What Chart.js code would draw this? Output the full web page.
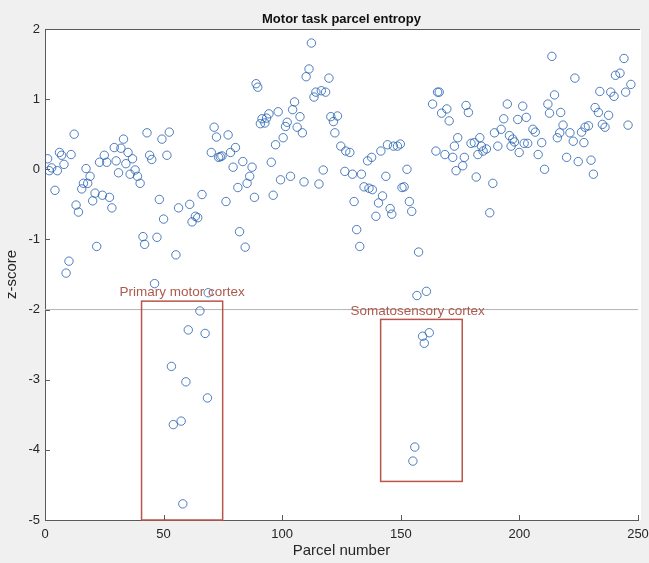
<!DOCTYPE html>
<html>
<head>
<meta charset="utf-8">
<script src="https://cdn.jsdelivr.net/npm/chart.js@4.4.0/dist/chart.umd.min.js"></script>
<style>
  html, body { margin: 0; padding: 0; background: #f0f0f0; }
  #wrap { width: 649px; height: 563px; }
</style>
</head>
<body>
<div id="wrap"><canvas id="entropyChart" width="649" height="563"></canvas></div>
<script>
// parcel number (x) and z-score (y)
const parcelNumbers = [
  1.1, 1.8, 2.8, 4.2, 5.2, 6.1, 7, 8, 8.9, 10.1, 11, 12.3, 13.1, 14.1, 15.5, 16.2, 17.3, 18, 19, 20.1,
  21.1, 21.8, 23, 24.2, 25, 26, 27.2, 28.2, 29.2, 30, 31, 32, 33.1, 34.1, 35, 35.9, 36.9, 38, 39, 40.1,
  41.3, 42, 43, 44.1, 45, 46.2, 47.2, 48.2, 49.3, 50, 51.4, 52.4, 53.3, 54.1, 55.2, 56.3, 57.4, 58.1, 59.4, 60.4,
  61, 62, 63.4, 64.4, 65.3, 66.2, 67.5, 68.5, 68.8, 70.1, 71.3, 72.3, 73.2, 73.9, 74.6, 76.3, 77.2, 78.2, 79.3, 80.3,
  81.3, 82, 83.4, 84.4, 85.2, 86.3, 87.3, 88.3, 89, 89.7, 90.8, 91.5, 92.7, 93.4, 94.4, 95.4, 96.2, 97.2, 98.3, 99.3,
  100.4, 101.4, 102.1, 103.5, 104.4, 105.2, 106.3, 107.5, 108.5, 109.2, 110.1, 111.3, 112.3, 113.4, 114.2, 115.5, 116.5, 117.3, 118.3, 119.7,
  120.5, 121.6, 122.2, 123.3, 124.7, 126.4, 126.8, 128.5, 129.6, 130.3, 131.4, 132.7, 133.4, 134.5, 136, 136.6, 137.7, 138, 139.5, 140.6,
  141.6, 142.3, 143.7, 144.4, 145.5, 146.2, 146.9, 148.6, 149.8, 150.5, 151.4, 152.6, 153.6, 154.6, 155.1, 155.9, 156.8, 157.5, 159.2, 159.9,
  160.8, 162, 163.4, 164.8, 165.5, 166.2, 167.2, 168.6, 169.4, 170.4, 171.9, 172.6, 173.3, 174, 176.1, 176.8, 177.5, 178.5, 179.6, 181,
  181.8, 182.5, 183.3, 184, 184.7, 186.1, 187.5, 188.8, 189.5, 190.9, 192.3, 193.4, 194.9, 195.8, 196.5, 197.2, 197.9, 199.3, 199.9, 201.4,
  202, 202.9, 203.5, 205.7, 206.7, 207.9, 209.4, 210.6, 212, 212.7, 213.7, 214.8, 216, 217, 217.4, 218.4, 219.9, 221.3, 222.7, 223.4,
  224.8, 226.2, 227.2, 227.7, 229.1, 230.2, 231.2, 231.9, 233.3, 233.9, 235, 236.1, 237.6, 238.5, 239.9, 240.5, 242.4, 244.1, 244.8, 245.8,
  247
];
const zScores = [
  0.15, -0.02, 0.02, -0.30, -0.02, 0.24, 0.2, 0.07, -1.48, -1.31, 0.21, 0.5, -0.51, -0.61, -0.28, -0.2, 0.01, -0.2, -0.1, -0.45,
  -0.34, -1.1, 0.1, -0.37, 0.2, 0.1, -0.4, -0.55, 0.31, 0.12, -0.05, 0.3, 0.43, 0.08, 0.24, -0.07, 0.15, -0.01, -0.1, -0.2,
  -0.96, -1.07, 0.52, 0.2, 0.14, -1.63, -0.97, -0.43, 0.43, -0.71, 0.2, 0.53, -2.81, -3.64, -1.22, -0.55, -3.59, -4.77, -3.03, -2.29,
  -0.5, -0.75, -0.67, -0.69, -2.02, -0.36, -2.34, -3.26, -1.76, 0.24, 0.6, 0.46, 0.17, 0.18, 0.19, -0.46, 0.49, 0.24, 0.03, 0.31,
  -0.26, -0.89, 0.11, -1.11, -0.2, -0.1, 0.03, -0.4, 1.22, 1.17, 0.65, 0.72, 0.66, 0.73, 0.79, 0.1, -0.37, 0.35, 0.82, -0.15,
  0.45, 0.61, 0.67, -0.1, 0.85, 0.96, 0.6, 0.75, 0.52, -0.18, 1.32, 1.43, 1.8, 1.03, 1.1, -0.21, 1.12, -0.01, 1.1, 1.3,
  0.75, 0.68, 0.52, 0.76, 0.33, -0.03, 0.26, 0.24, -0.07, -0.46, -0.86, -1.1, -0.07, -0.25, 0.12, -0.27, 0.17, -0.29, -0.67, -0.48,
  0.26, -0.38, -0.1, 0.35, -0.56, -0.64, 0.33, 0.33, 0.36, -0.26, -0.25, 0, -0.46, -0.6, -4.16, -3.96, -1.8, -1.18, -2.38, -2.48,
  -1.74, -2.33, 0.93, 0.26, 1.1, 1.1, 0.8, 0.21, 0.86, 0.69, 0.17, 0.33, -0.02, 0.45, 0.05, 0.17, 0.91, 0.81, 0.37, 0.38,
  -0.11, 0.21, 0.45, 0.33, 0.26, 0.29, -0.62, -0.2, 0.52, 0.33, 0.57, 0.72, 0.93, 0.48, 0.33, 0.43, 0.39, 0.71, 0.24, 0.9,
  0.37, 0.74, 0.37, 0.57, 0.53, 0.21, 0.38, 0, 0.93, 0.8, 1.61, 1.06, 0.45, 0.52, 0.81, 0.63, 0.17, 0.52, 0.4, 1.3,
  0.11, 0.53, 0.38, 0.6, 0.62, 0.13, -0.07, 0.88, 0.81, 1.11, 0.64, 0.6, 0.77, 1.1, 1.04, 1.34, 1.37, 1.58, 1.1, 0.63,
  1.21
];

const thresholdZ = -2;
// highlighted regions in data units: [xFrom, xTo], [yTop, yBottom], label anchor [x, y]
const motorBoxX = [40.7, 74.9];
const motorBoxY = [-1.88, -5];
const motorLabel = ["Primary motor cortex", 57.8, -1.76];
const sensoryBoxX = [141.5, 175.9];
const sensoryBoxY = [-2.14, -4.45];
const sensoryLabel = ["Somatosensory cortex", 157.1, -2.02];

const points = parcelNumbers.map((p, i) => ({ x: p, y: zScores[i] }));
const FONT = "'Liberation Sans', Arial, Helvetica, sans-serif";

const figurePlugin = {
  id: "figure",
  beforeDraw(chart) {
    const { ctx, chartArea: a } = chart;
    ctx.save();
    ctx.fillStyle = "#f0f0f0";
    ctx.fillRect(0, 0, chart.width, chart.height);
    ctx.fillStyle = "#ffffff";
    ctx.fillRect(a.left, a.top, a.right - a.left + 3, a.bottom - a.top);
    ctx.restore();
  },
  afterDatasetsDraw(chart) {
    const { ctx, scales: { x, y } } = chart;
    ctx.save();
    ctx.strokeStyle = "#b9554b";
    ctx.lineWidth = 1.5;
    [[motorBoxX, motorBoxY], [sensoryBoxX, sensoryBoxY]].forEach(([bx, by]) => {
      const x0 = x.getPixelForValue(bx[0]), x1 = x.getPixelForValue(bx[1]);
      const y0 = y.getPixelForValue(by[0]), y1 = y.getPixelForValue(by[1]);
      ctx.strokeRect(x0, y0, x1 - x0, y1 - y0);
    });
    ctx.fillStyle = "#ad5a4e";
    ctx.font = "13.5px " + FONT;
    ctx.textAlign = "center";
    ctx.textBaseline = "middle";
    [motorLabel, sensoryLabel].forEach(([txt, lx, ly]) => {
      ctx.fillText(txt, x.getPixelForValue(lx), y.getPixelForValue(ly));
    });
    ctx.restore();
  },
  afterDraw(chart) {
    const { ctx, chartArea: a, scales: { x, y } } = chart;
    ctx.save();
    ctx.strokeStyle = "#5a5a5a";
    ctx.lineWidth = 1;
    ctx.beginPath();
    ctx.moveTo(a.left, a.top + 0.5);
    ctx.lineTo(a.right + 2, a.top + 0.5);
    // inward ticks
    x.ticks.forEach(t => {
      const px = Math.round(x.getPixelForValue(t.value)) + 0.5;
      ctx.moveTo(px, a.bottom);
      ctx.lineTo(px, a.bottom - 5);
    });
    y.ticks.forEach(t => {
      const py = Math.round(y.getPixelForValue(t.value)) + 0.5;
      ctx.moveTo(a.left, py);
      ctx.lineTo(a.left + 5, py);
    });
    ctx.stroke();
    ctx.fillStyle = "#111";
    ctx.font = "bold 13px " + FONT;
    ctx.textAlign = "center";
    ctx.textBaseline = "middle";
    ctx.fillText("Motor task parcel entropy", (a.left + a.right) / 2, 19);
    ctx.restore();
  }
};

new Chart(document.getElementById("entropyChart"), {
  type: "scatter",
  data: {
    datasets: [
      {
        type: "line",
        data: [{ x: 0, y: thresholdZ }, { x: 250, y: thresholdZ }],
        borderColor: "#b4b4b4",
        borderWidth: 1,
        pointRadius: 0,
        order: 2
      },
      {
        label: "Parcel entropy",
        data: points,
        pointStyle: "circle",
        pointRadius: 4.2,
        backgroundColor: "rgba(0,0,0,0)",
        borderColor: "rgba(35,95,175,0.8)",
        borderWidth: 1,
        order: 1
      }
    ]
  },
  options: {
    responsive: false,
    animation: false,
    layout: { padding: { top: 29, right: 11, bottom: 0, left: 0 } },
    plugins: { legend: { display: false }, tooltip: { enabled: false } },
    scales: {
      x: {
        type: "linear",
        min: 0,
        max: 250,
        afterFit(scale) { scale.height = 43; scale.paddingRight = 0; scale.paddingLeft = 0; },
        ticks: { stepSize: 50, padding: 7, maxRotation: 0, color: "#262626", font: { family: FONT, size: 13 } },
        grid: { display: false, drawTicks: false },
        border: { color: "#5a5a5a", width: 1 },
        title: { display: true, text: "Parcel number", color: "#262626", font: { family: FONT, size: 15 }, padding: { top: 0, bottom: 3 } }
      },
      y: {
        type: "linear",
        min: -5,
        max: 2,
        afterFit(scale) { scale.width = 45; scale.paddingTop = 0; scale.paddingBottom = 0; },
        ticks: { stepSize: 1, padding: 5, color: "#262626", font: { family: FONT, size: 13 } },
        grid: { display: false, drawTicks: false },
        border: { color: "#5a5a5a", width: 1 },
        title: { display: true, text: "z-score", color: "#262626", font: { family: FONT, size: 15 }, padding: { top: 3, bottom: 0 } }
      }
    }
  },
  plugins: [figurePlugin]
});
</script>
</body>
</html>
